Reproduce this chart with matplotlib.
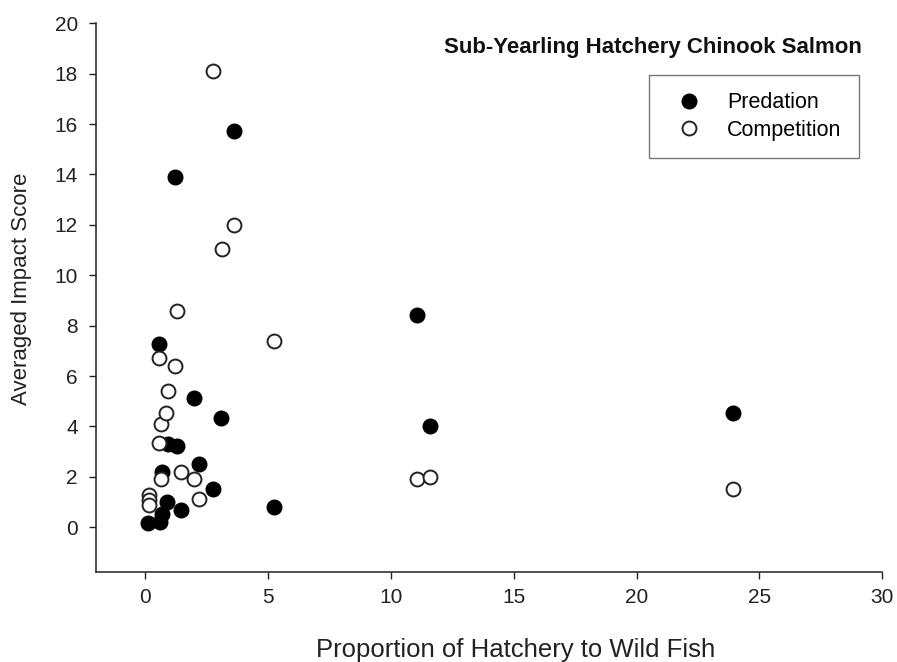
import matplotlib
matplotlib.use("Agg")
import matplotlib.pyplot as plt

plt.rcParams['font.family'] = ['Liberation Sans', 'DejaVu Sans']

# Predation (filled)
pred_x = [0.11, 0.61, 0.68, 0.88, 1.46, 2.78, 5.25, 2.21, 0.68, 0.95, 1.29,
          3.09, 1.97, 0.58, 1.22, 3.62, 11.07, 11.6, 23.92]
pred_y = [0.15, 0.22, 0.53, 1.02, 0.70, 1.52, 0.82, 2.51, 2.21, 3.31, 3.23,
          4.32, 5.12, 7.26, 13.91, 15.73, 8.42, 4.02, 4.54]

# Competition (open)
comp_x = [0.14, 0.14, 0.14, 0.65, 1.45, 1.97, 2.20, 0.58, 0.65, 0.85, 0.91,
          1.22, 0.58, 5.25, 1.29, 3.12, 3.62, 2.75, 11.07, 11.6, 23.92]
comp_y = [1.28, 1.06, 0.88, 1.92, 2.21, 1.92, 1.11, 3.36, 4.10, 4.55, 5.42,
          6.41, 6.71, 7.40, 8.60, 11.03, 12.01, 18.10, 1.92, 2.00, 1.52]

x_ticks = [0, 5, 10, 15, 20, 25, 30]
y_ticks = [0, 2, 4, 6, 8, 10, 12, 14, 16, 18, 20]

title = "Sub-Yearling Hatchery Chinook Salmon"
x_label = "Proportion of Hatchery to Wild Fish"
y_label = "Averaged Impact Score"

W, H = 897, 662
fig = plt.figure(figsize=(W/100, H/100), dpi=100)
ax = fig.add_axes([96/W, 1-572.3/H, (882.3-96)/W, (572.3-23.3)/H])

ax.plot(pred_x, pred_y, 'o', ms=10.5, mfc='black', mec='black', mew=1.0,
        ls='none', label='Predation', zorder=3)
ax.plot(comp_x, comp_y, 'o', ms=10.0, mfc='white', mec='#222222', mew=1.4,
        ls='none', label='Competition', zorder=3)

ax.set_xlim(-2, 30)
ax.set_ylim(-1.79, 20)
ax.set_xticks(x_ticks)
ax.set_yticks(y_ticks)
ax.spines['top'].set_visible(False)
ax.spines['right'].set_visible(False)
for s in ['left', 'bottom']:
    ax.spines[s].set_linewidth(1.1)
    ax.spines[s].set_color('#222222')
ax.spines['left'].set_bounds(-1.79, 20)
ax.spines['bottom'].set_bounds(-2, 30)
ax.tick_params(direction='out', length=5, width=1.0, labelsize=15,
               colors='#222222')
ax.tick_params(axis='x', pad=6.5)
ax.tick_params(axis='y', pad=8)

ax.set_xlabel(x_label, fontsize=18.5, color='#222222')
ax.set_ylabel(y_label, fontsize=16, color='#222222')
ax.xaxis.set_label_coords(516/W, 1-650/H, transform=fig.transFigure)
ax.xaxis.label.set_va('center')
ax.yaxis.set_label_coords(22/W, 1-289/H, transform=fig.transFigure)
ax.yaxis.label.set_va('center')

fig.text(862/W, 1-47/H, title, ha='right', va='center',
         fontsize=16, fontweight='bold', color='#111111')

leg = ax.legend(loc='center', bbox_to_anchor=(753.7/W, 1-116.5/H),
                bbox_transform=fig.transFigure, fontsize=15.5, frameon=True,
                fancybox=False, handlelength=2.2, handletextpad=0.66,
                borderpad=0.8, labelspacing=0.3, borderaxespad=0)
leg.get_frame().set_edgecolor('#555555')
leg.get_frame().set_linewidth(1.0)

fig.savefig("out.png", dpi=100)
